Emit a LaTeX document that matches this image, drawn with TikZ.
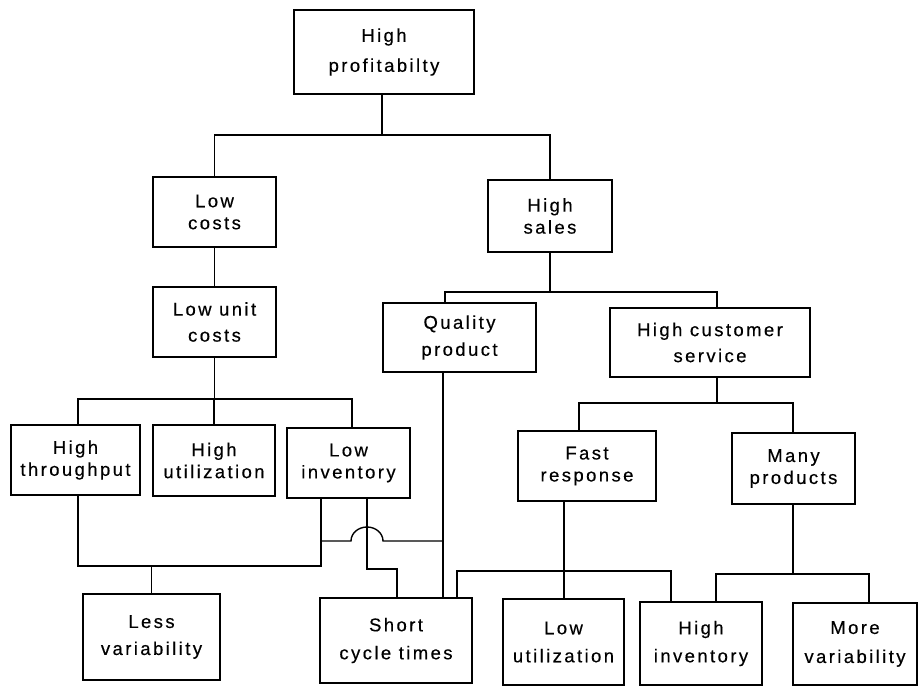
\documentclass[tikz,border=0pt]{standalone}
\usepackage{fontspec}
\setmainfont{Liberation Sans}[LetterSpace=13,FakeBold=0.4]
\begin{document}
\begin{tikzpicture}[x=1pt,y=-1pt,
  box/.style={draw, line width=1.5pt, rectangle, inner sep=0pt, align=center,
    font=\fontsize{18.5}{22}\selectfont},
  conn/.style={line width=1.4pt, line join=miter}]
\useasboundingbox (0,0) rectangle (919,686);
% boxes
\node[box, minimum width=180pt, minimum height=84pt] (prof) at (384,52) {High\\[8pt]profitabilty};
\node[box, minimum width=123pt, minimum height=70pt] (lc) at (214.5,212) {Low\\costs};
\node[box, minimum width=124pt, minimum height=72pt] (hs) at (550,216) {High\\sales};
\node[box, minimum width=123pt, minimum height=70pt] (luc) at (214.5,322) {Low unit\\[4pt]costs};
\node[box, minimum width=153pt, minimum height=69pt] (qp) at (459.5,337.5) {Quality\\[5pt]product};
\node[box, minimum width=200pt, minimum height=69pt] (hcs) at (710,342.5) {High customer\\[4pt]service};
\node[box, minimum width=129pt, minimum height=70pt] (ht) at (75.5,460) {High\\throughput};
\node[box, minimum width=122pt, minimum height=71pt] (hu) at (214,460.5) {High\\utilization};
\node[box, minimum width=123pt, minimum height=70pt] (li) at (348.5,463) {Low\\inventory};
\node[box, minimum width=138pt, minimum height=70pt] (fr) at (587,466) {Fast\\response};
\node[box, minimum width=123pt, minimum height=71pt] (mp) at (793.5,468.5) {Many\\products};
\node[box, minimum width=137pt, minimum height=86pt] (lv) at (151.5,637) {Less\\[5pt]variability};
\node[box, minimum width=152pt, minimum height=85pt] (sct) at (396,640.5) {Short\\[6pt]cycle times};
\node[box, minimum width=121pt, minimum height=86pt] (lu) at (563.5,642) {Low\\[6pt]utilization};
\node[box, minimum width=122pt, minimum height=83pt] (hi) at (701,643.5) {High\\[6pt]inventory};
\node[box, minimum width=124pt, minimum height=82pt] (mv) at (855,644) {More\\[7pt]variability};
% bar coordinates
\coordinate (b1) at (382,135);
\coordinate (b2) at (215,399);
\coordinate (b3) at (550,292);
\coordinate (b4) at (717,403);
\coordinate (b5) at (564,571);
\coordinate (b6) at (793,574);
\coordinate (b7) at (152,566);
\coordinate (b8) at (397,569);
\coordinate (h1) at (321,541);
\coordinate (h2) at (443,541);
% connectors
\draw[conn] (prof.south -| b1) -- (b1);
\draw[conn] (lc.north) |- (b1) -| (hs.north);
\draw[conn] (lc.south) -- (lc.south |- luc.north);
\draw[conn] (luc.south) -- (luc.south |- b2);
\draw[conn] ([xshift=2.5pt]ht.north) |- (b2) -| ([xshift=3.5pt]li.north);
\draw[conn] (hu.north) -- (hu.north |- b2);
\draw[conn] (hs.south) -- (b3);
\draw[conn] ([xshift=-14.5pt]qp.north) |- (b3) -| ([xshift=7pt]hcs.north);
\draw[conn] ([xshift=7pt]hcs.south) -- (b4);
\draw[conn] ([xshift=-8pt]fr.north) |- (b4) -| ([xshift=-0.5pt]mp.north);
\draw[conn] ([xshift=-23pt]fr.south) -- ([xshift=0.5pt]lu.north);
\draw[conn] ([xshift=61pt]sct.north) |- (b5) -| ([xshift=-30pt]hi.north);
\draw[conn] ([xshift=-0.5pt]mp.south) -- (b6);
\draw[conn] ([xshift=15pt]hi.north) |- (b6) -| ([xshift=14pt]mv.north);
\draw[conn] ([xshift=2.5pt]ht.south) |- (b7) -| ([xshift=-27.5pt]li.south);
\draw[conn] (lv.north) -- (lv.north |- b7);
\draw[conn] ([xshift=18.5pt]li.south) |- (b8) -- (b8 |- sct.north);
\draw[conn] ([xshift=-16.5pt]qp.south) -- ([xshift=47pt]sct.north);
\draw[conn] (h1) -- ([xshift=30pt]h1) arc[start angle=180,end angle=360,x radius=16,y radius=14] -- (h2);
\end{tikzpicture}
\end{document}
